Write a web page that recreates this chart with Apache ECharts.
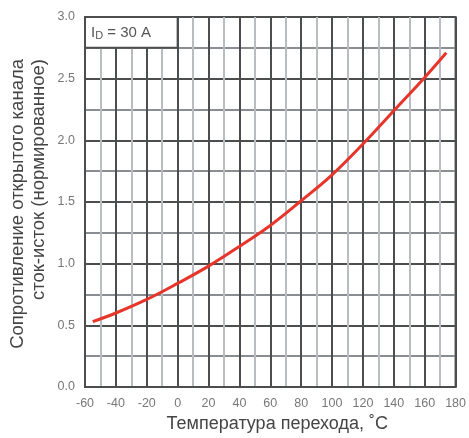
<!DOCTYPE html>
<html>
<head>
<meta charset="utf-8">
<script src="https://cdn.jsdelivr.net/npm/echarts@6/dist/echarts.min.js"></script>
<style>html,body{margin:0;padding:0;background:#fff}#c{width:469px;height:438px}</style>
</head>
<body>
<div id="c"></div>
<script>
const temps = [-55, -40, -20, 0, 20, 40, 60, 80, 100, 120, 140, 160, 174];
const resistance = [0.53, 0.60, 0.71, 0.84, 0.98, 1.14, 1.31, 1.51, 1.72, 1.97, 2.24, 2.51, 2.71];
const xTicks = [-60, 180, 20];
const yTicks = [0, 3, 0.5];
const boxRange = [[-60, 2.75], [0, 3.0]];
const xTitle = 'Температура перехода, ˚C';
const yTitle1 = 'Сопротивление открытого канала';
const yTitle2 = 'сток-исток (нормированное)';

const FONT = 'Liberation Sans, Arial, sans-serif';
const MAJOR = '#4b4d4f';
const chart = echarts.init(document.getElementById('c'), null, {renderer: 'canvas'});
chart.setOption({
  animation: false,
  backgroundColor: '#fff',
  grid: {left: 85, right: 12, top: 17, bottom: 49, show: true, borderColor: MAJOR, borderWidth: 2},
  graphic: [
    {type: 'text', x: 18, y: 59, rotation: Math.PI / 2,
     style: {text: yTitle1, font: '18.5px ' + FONT, fill: '#444', textAlign: 'right', textVerticalAlign: 'middle'}},
    {type: 'text', x: 39, y: 59, rotation: Math.PI / 2,
     style: {text: yTitle2, font: '18.5px ' + FONT, fill: '#444', textAlign: 'right', textVerticalAlign: 'middle'}}
  ],
  xAxis: {
    type: 'value', min: xTicks[0], max: xTicks[1], interval: xTicks[2],
    name: xTitle, nameLocation: 'middle', nameGap: 28,
    nameTextStyle: {fontFamily: FONT, fontSize: 18, color: '#444', padding: [0, 0, 0, 14]},
    axisLine: {show: true, lineStyle: {color: MAJOR, width: 2}},
    axisTick: {show: false},
    axisLabel: {fontFamily: FONT, fontSize: 12.5, color: '#777', margin: 10},
    splitLine: {show: true, lineStyle: {color: MAJOR, width: 2}},
    minorTick: {show: false, splitNumber: 2},
    minorSplitLine: {show: true, lineStyle: {color: '#b9bdc1', width: 2}}
  },
  yAxis: {
    type: 'value', min: yTicks[0], max: yTicks[1], interval: yTicks[2],
    axisLine: {show: true, lineStyle: {color: MAJOR, width: 2}},
    axisTick: {show: false},
    axisLabel: {fontFamily: FONT, fontSize: 12.5, color: '#777', margin: 10,
                formatter: v => v.toFixed(1)},
    splitLine: {show: true, lineStyle: {color: MAJOR, width: 2}},
    minorTick: {show: false, splitNumber: 2},
    minorSplitLine: {show: true, lineStyle: {color: '#8a8e92', width: 2}}
  },
  series: [{
    type: 'line',
    data: temps.map((t, i) => [t, resistance[i]]),
    smooth: 0.4,
    showSymbol: false,
    lineStyle: {color: '#e8352b', width: 3},
    markArea: {
      silent: true,
      itemStyle: {color: '#fff', borderColor: MAJOR, borderWidth: 2, opacity: 1},
      label: {
        show: true, position: 'insideLeft', distance: 7,
        rich: {
          a: {fontFamily: FONT, fontSize: 15, color: '#555', lineHeight: 18},
          b: {fontFamily: FONT, fontSize: 11, color: '#555', lineHeight: 18, padding: [8, 0, 0, 0]}
        },
        formatter: '{a|I}{b|D}{a| = 30 A}'
      },
      data: [[{coord: boxRange[0]}, {coord: boxRange[1]}]]
    }
  }]
});
</script>
</body>
</html>
